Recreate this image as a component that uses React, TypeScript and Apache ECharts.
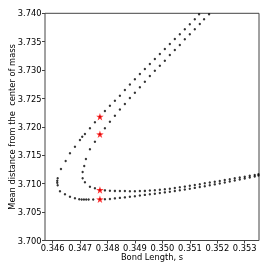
import React, { useEffect, useRef } from "react";
import * as echarts from "echarts";

const xTickValues = [0.346, 0.347, 0.348, 0.349, 0.35, 0.351, 0.352, 0.353];
const yTickValues = [3.7, 3.705, 3.71, 3.715, 3.72, 3.725, 3.73, 3.735, 3.74];

// Outer branch: upper diagonal, left turn
const outerDiagonal: [number, number][] = [
  [0.351336, 3.73982], [0.35118, 3.73894], [0.350998, 3.73806], [0.350816, 3.73718],
  [0.350634, 3.7363], [0.350452, 3.73548], [0.35027, 3.7346], [0.350088, 3.73372],
  [0.349906, 3.73284], [0.349724, 3.73196], [0.349542, 3.73107], [0.34936, 3.73019],
  [0.349178, 3.72931], [0.348996, 3.72838], [0.348814, 3.72747], [0.348632, 3.7265],
  [0.34845, 3.72549], [0.348268, 3.72461], [0.348086, 3.72373], [0.347904, 3.7228],
  [0.347722, 3.7218], [0.34754, 3.72081], [0.347358, 3.71975], [0.347176, 3.71875],
  [0.347077, 3.71828], [0.346994, 3.71769], [0.346812, 3.71651], [0.34663, 3.71535],
];
const outerTurn: [number, number][] = [
  [0.346473, 3.714], [0.346302, 3.71259], [0.346182, 3.71095], [0.346167, 3.71053],
  [0.346167, 3.71018], [0.346182, 3.70972], [0.346266, 3.70866], [0.346448, 3.70813],
  [0.34663, 3.70771], [0.346812, 3.70743], [0.346968, 3.70725], [0.347056, 3.70723],
  [0.347139, 3.70722], [0.347223, 3.70722], [0.34731, 3.70722], [0.347478, 3.70722],
  [0.347722, 3.70725],
];

// Inner branch: lower diagonal, left turn
const innerDiagonal: [number, number][] = [
  [0.3517, 3.73982], [0.351518, 3.73894], [0.351362, 3.73812], [0.35118, 3.73718],
  [0.350998, 3.7363], [0.350816, 3.73542], [0.350634, 3.73442], [0.350452, 3.73354],
  [0.35027, 3.73266], [0.350088, 3.73166], [0.349906, 3.73078], [0.349724, 3.7299],
  [0.349542, 3.72896], [0.34936, 3.72796], [0.349178, 3.72697], [0.348996, 3.72602],
  [0.348814, 3.72509], [0.348632, 3.72403], [0.34845, 3.72306], [0.348268, 3.72197],
  [0.348086, 3.72092], [0.347904, 3.71975], [0.347722, 3.7187], [0.34754, 3.71739],
  [0.347358, 3.71606],
];
const innerTurn: [number, number][] = [
  [0.347212, 3.71435], [0.34715, 3.71312], [0.347092, 3.71206], [0.347092, 3.71095],
  [0.347176, 3.71025], [0.347358, 3.70947], [0.34754, 3.70919], [0.347722, 3.70889],
];

// Lower (right-going) parts of both branches share x positions
const lowerX = [
  0.347904, 0.348086, 0.348268, 0.34845, 0.348632, 0.348814, 0.348996, 0.349178,
  0.34936, 0.349542, 0.349724, 0.349906, 0.350088, 0.35027, 0.350452, 0.350634,
  0.350816, 0.350998, 0.35118, 0.351362, 0.351544, 0.351726, 0.351908, 0.35209,
  0.352272, 0.352454, 0.352636, 0.352818, 0.353, 0.353182, 0.353364, 0.3535,
];
const outerLowerY = [
  3.70725, 3.70732, 3.70741, 3.7075, 3.70759, 3.70769, 3.7078, 3.70791,
  3.70803, 3.70813, 3.70824, 3.70836, 3.70847, 3.70859, 3.70871, 3.70886,
  3.70898, 3.70912, 3.70926, 3.70942, 3.70956, 3.70972, 3.70988, 3.71004,
  3.71021, 3.71039, 3.71056, 3.71074, 3.71092, 3.71109, 3.71127, 3.71143,
];
const innerLowerY = [
  3.70882, 3.70877, 3.70873, 3.70871, 3.7087, 3.70868, 3.70868, 3.7087,
  3.70873, 3.70879, 3.70886, 3.70893, 3.70901, 3.70912, 3.70924, 3.70937,
  3.70949, 3.70963, 3.70977, 3.70991, 3.71007, 3.71021, 3.71035, 3.71049,
  3.71065, 3.71079, 3.71095, 3.71109, 3.71123, 3.71139, 3.71153, 3.71166,
];

const starPoints: [number, number][] = [
  [0.347722, 3.70725], [0.347722, 3.70889], [0.347722, 3.7187], [0.347722, 3.7218],
];

const STAR =
  "path://M0,-10 L2.35,-3.24 L9.51,-3.09 L3.8,1.24 L5.88,8.09 L0,4 L-5.88,8.09 L-3.8,1.24 L-9.51,-3.09 L-2.35,-3.24 Z";

export default function App() {
  const ref = useRef<HTMLDivElement>(null);
  useEffect(() => {
    if (!ref.current) return;
    const chart = echarts.init(ref.current, undefined, { renderer: "svg" });
    const font = "DejaVu Sans";
    const axisColor = "#444";
    const outer = [
      ...outerDiagonal,
      ...outerTurn,
      ...lowerX.map((x, i) => [x, outerLowerY[i]] as [number, number]),
    ];
    const inner = [
      ...innerDiagonal,
      ...innerTurn,
      ...lowerX.map((x, i) => [x, innerLowerY[i]] as [number, number]),
    ];
    chart.setOption({
      animation: false,
      grid: {
        left: 45,
        right: 11,
        top: 13.3,
        bottom: 29.5,
        show: true,
        borderColor: axisColor,
        borderWidth: 1,
        outerBoundsMode: "none",
      },
      xAxis: {
        type: "value",
        min: 0.34572,
        max: 0.35352,
        name: "Bond Length, s",
        nameLocation: "middle",
        nameGap: 12.5,
        nameMoveOverlap: false,
        nameTextStyle: {
          fontFamily: font,
          fontSize: 8.3,
          color: "#000",
          verticalAlign: "top",
        },
        axisLine: { show: false },
        splitLine: { show: false },
        axisTick: {
          show: true,
          length: 3,
          customValues: xTickValues,
          lineStyle: { color: axisColor },
        },
        axisLabel: {
          customValues: xTickValues,
          formatter: (v: number) => v.toFixed(3),
          fontFamily: font,
          fontSize: 8.3,
          color: "#000",
          margin: 3,
        },
      },
      yAxis: {
        type: "value",
        min: 3.7,
        max: 3.74,
        name: "Mean distance from the  center of mass",
        nameLocation: "middle",
        nameGap: 29,
        nameMoveOverlap: false,
        nameTextStyle: { fontFamily: font, fontSize: 8.3, color: "#000" },
        axisLine: { show: false },
        splitLine: { show: false },
        axisTick: {
          show: true,
          length: 3,
          customValues: yTickValues,
          lineStyle: { color: axisColor },
        },
        axisLabel: {
          customValues: yTickValues,
          formatter: (v: number) => v.toFixed(3),
          fontFamily: font,
          fontSize: 8.3,
          color: "#000",
          margin: 3.5,
        },
      },
      series: [
        {
          type: "scatter",
          data: outer,
          symbol: "circle",
          symbolSize: 2.4,
          itemStyle: { color: "#000" },
          clip: true,
          z: 2,
        },
        {
          type: "scatter",
          data: inner,
          symbol: "circle",
          symbolSize: 2.4,
          itemStyle: { color: "#000" },
          clip: true,
          z: 2,
        },
        {
          type: "scatter",
          data: starPoints,
          symbol: STAR,
          symbolSize: [7.5, 7.5],
          itemStyle: { color: "#ff0000" },
          z: 3,
        },
      ],
    });
    return () => chart.dispose();
  }, []);
  return (
    <div
      ref={ref}
      style={{ position: "fixed", left: 0, top: 0, width: 270, height: 270 }}
    />
  );
}
